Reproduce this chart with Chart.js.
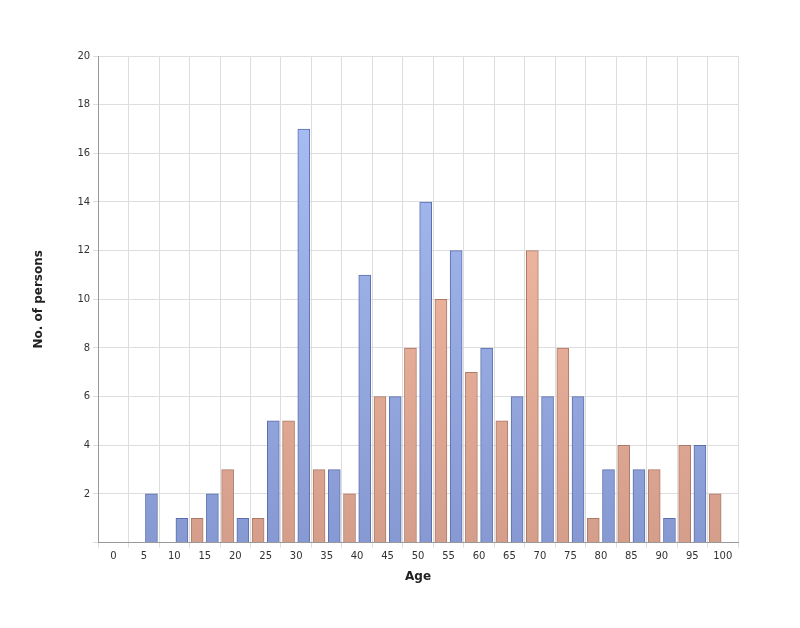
<!DOCTYPE html>
<html>
<head>
<meta charset="utf-8">
<script src="https://cdn.jsdelivr.net/npm/chart.js@4"></script>
<style>
  html, body { margin: 0; padding: 0; background: #fff; }
  #wrap { width: 800px; height: 628px; }
</style>
</head>
<body>
<div id="wrap"><canvas id="myChart"></canvas></div>
<script>
// bin starts (age groups of 5 years)
const binStarts = [5, 10, 15, 20, 25, 30, 35, 40, 45, 50, 55, 60, 65, 70, 75, 80, 85, 90, 95];
const blueValues = [2, 1, 2, 1, 5, 17, 3, 11, 6, 14, 12, 8, 6, 6, 6, 3, 3, 1, 4];
const orangeValues = [0, 1, 3, 1, 5, 3, 2, 6, 8, 10, 7, 5, 12, 8, 1, 4, 3, 4, 2];
const xTicks = [0, 5, 10, 15, 20, 25, 30, 35, 40, 45, 50, 55, 60, 65, 70, 75, 80, 85, 90, 95, 100];

function gradient(top, bottom) {
  return (ctx) => {
    const area = ctx.chart.chartArea;
    if (!area) return top;
    const g = ctx.chart.ctx.createLinearGradient(0, area.top, 0, area.bottom);
    g.addColorStop(0, top);
    g.addColorStop(1, bottom);
    return g;
  };
}

const ctx = document.getElementById("myChart").getContext("2d");
new Chart(ctx, {
  type: "bar",
  data: {
    datasets: [{
      data: binStarts.map((b, i) => ({x: b + 1.25, y: blueValues[i]})),
      backgroundColor: gradient("#abc1f7", "#8799d2"),
      borderColor: "#5b6fae",
      borderWidth: 1,
      borderSkipped: "bottom"
    }, {
      data: binStarts.map((b, i) => ({x: b + 3.75, y: orangeValues[i]})),
      backgroundColor: gradient("#fcc2a8", "#d59e8b"),
      borderColor: "#ad7a68",
      borderWidth: 1,
      borderSkipped: "bottom"
    }]
  },
  options: {
    responsive: true,
    maintainAspectRatio: false,
    animation: false,
    layout: { padding: { top: 56, right: 62, bottom: 40, left: 28 } },
    datasets: { bar: { grouped: false, barThickness: 12 } },
    plugins: {
      legend: { display: false },
      tooltip: { enabled: false }
    },
    scales: {
      x: {
        type: "linear",
        min: 0,
        max: 100,
        afterBuildTicks: (axis) => { axis.ticks = xTicks.map(v => ({value: v})); },
        grid: { color: "#dddddd", drawTicks: true, tickLength: 5 },
        border: { color: "#999999" },
        ticks: { color: "#333", font: { family: "DejaVu Sans", size: 10 }, maxRotation: 0, autoSkip: false },
        title: { display: true, text: "Age", color: "#222", font: { family: "DejaVu Sans", size: 12, weight: "bold" } }
      },
      y: {
        min: 0,
        max: 20,
        grid: { color: "#dddddd", tickLength: 5 },
        border: { color: "#999999" },
        ticks: {
          stepSize: 2,
          color: "#333",
          font: { family: "DejaVu Sans", size: 10 },
          callback: (v) => v === 0 ? "" : v
        },
        title: { display: true, text: "No. of persons", color: "#222", padding: { bottom: 28 }, font: { family: "DejaVu Sans", size: 12, weight: "bold" } }
      }
    }
  }
});
</script>
</body>
</html>
